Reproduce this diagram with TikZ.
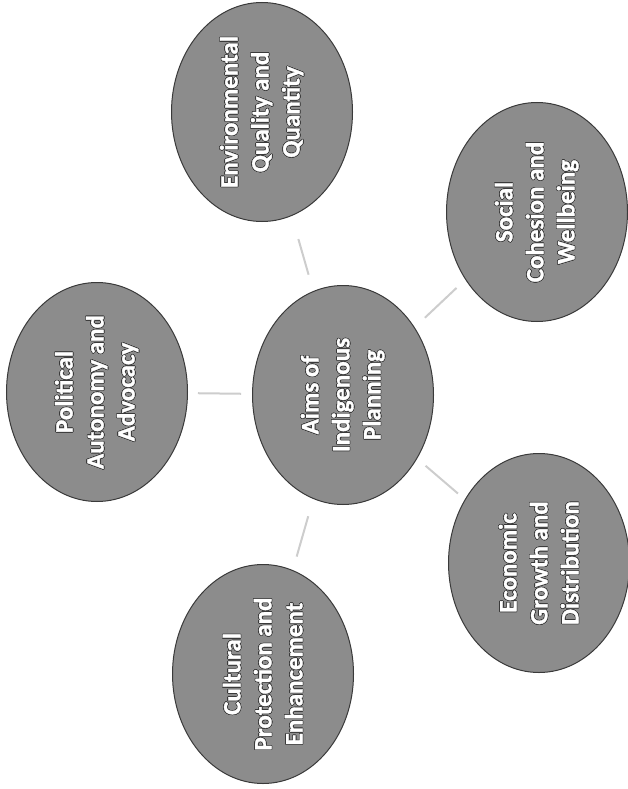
\documentclass[tikz,border=0pt]{standalone}
\usepackage{fontspec}
\setmainfont{Carlito}
\newfontfamily\bubfont{Carlito}[FakeBold=1.3]
\usepackage{contour}
\contourlength{0.6pt}
\usetikzlibrary{shapes.geometric}
\definecolor{bubfill}{HTML}{8C8C8C}
\definecolor{bubedge}{HTML}{3A3A3A}
\definecolor{connc}{HTML}{CDCDCD}
\newcommand{\ol}[1]{\contour{bubedge}{#1}}
\tikzset{
  bub/.style={ellipse, rotate=90, draw=bubedge, line width=1pt, fill=bubfill,
    minimum width=219pt, minimum height=181pt, inner sep=0pt,
    text=white, align=center, font=\fontsize{25}{31}\bubfont\bfseries},
  conn/.style={draw=connc, line width=2pt}
}
\begin{document}
\begin{tikzpicture}[x=1pt,y=-1pt]
\useasboundingbox (0,0) rectangle (627,789);
\node[bub] (c)   at (343,395) {\ol{Aims of}\\\ol{Indigenous}\\\ol{Planning}};
\node[bub] (env) at (262,112) {\ol{Environmental}\\\ol{Quality and}\\\ol{Quantity}};
\node[bub] (soc) at (537,212) {\ol{Social}\\\ol{Cohesion and}\\\ol{Wellbeing}};
\node[bub] (pol) at (97,392)  {\ol{Political}\\\ol{Autonomy and}\\\ol{Advocacy}};
\node[bub] (eco) at (539,563) {\ol{Economic}\\\ol{Growth and}\\\ol{Distribution}};
\node[bub] (cul) at (263,674) {\ol{Cultural}\\\ol{Protection and}\\\ol{Enhancement}};
\draw[conn, shorten <=17pt, shorten >=24pt] (c) -- (env);
\draw[conn, shorten <=14pt, shorten >=12pt] (c) -- (soc);
\draw[conn, shorten <=11pt, shorten >=10pt] (c) -- (pol);
\draw[conn, shorten <=11pt, shorten >=9pt]  (c) -- (eco);
\draw[conn, shorten <=18pt, shorten >=14pt] (c) -- (cul);
\end{tikzpicture}
\end{document}
